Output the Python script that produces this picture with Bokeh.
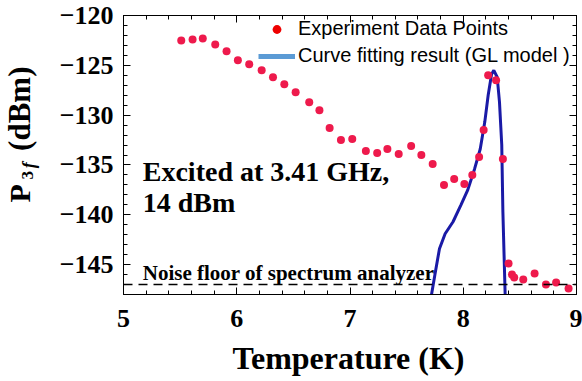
import numpy as np
from bokeh.plotting import figure
from bokeh.layouts import row, column
from bokeh.models import (Range1d, LinearAxis, FixedTicker, Span, Label,
                          Legend, LegendItem, ColumnDataSource)
from bokeh.core.properties import value
from bokeh.embed import file_html
from bokeh.resources import INLINE

# ---- data ----
temp_exp = [5.51, 5.61, 5.70, 5.81, 5.91, 6.01, 6.11, 6.22, 6.32, 6.42,
            6.52, 6.64, 6.73, 6.82, 6.92, 7.02, 7.14, 7.24, 7.33, 7.43,
            7.54, 7.63, 7.73, 7.83, 7.92, 8.01, 8.08, 8.14, 8.18, 8.22,
            8.29, 8.35, 8.40, 8.43, 8.45, 8.53, 8.63, 8.73, 8.82, 8.93]
p3f_exp = [-122.5, -122.4, -122.3, -122.9, -123.6, -124.5, -124.9, -125.5, -126.2, -126.9,
           -127.7, -128.7, -129.5, -131.3, -132.5, -132.4, -133.6, -133.8, -133.4, -133.9,
           -133.1, -134.0, -134.9, -137.0, -136.4, -136.9, -136.0, -134.2, -131.5, -126.0,
           -126.5, -134.4, -144.9, -146.0, -146.3, -146.5, -145.9, -147.0, -146.8, -147.4]

temp_fit = [7.72, 7.75, 7.79, 7.84, 7.91, 7.98, 8.04, 8.10, 8.15, 8.19,
            8.22, 8.25, 8.27, 8.30, 8.32, 8.34, 8.35, 8.37]
p3f_fit = [-148.0, -146.0, -143.4, -141.9, -140.7, -139.0, -137.5, -135.4, -133.4, -130.7,
           -128.0, -125.9, -125.5, -126.2, -128.7, -133.0, -139.7, -148.0]

noise_floor = -147.0

x_ticks = [5, 6, 7, 8, 9]
x_tick_labels = ["5", "6", "7", "8", "9"]
y_ticks = [-145, -140, -135, -130, -125, -120]
y_tick_labels = ["\u2212145", "\u2212140", "\u2212135", "\u2212130", "\u2212125", "\u2212120"]

x_title = "Temperature (K)"
legend_labels = ["Experiment Data Points", "Curve fitting result (GL model )"]

SERIF = "Liberation Serif"
SANS = "Liberation Sans"

LW, MW, TOPH, BH = 45, 537, 340, 41


def blank_fig(w, h):
    f = figure(width=w, height=h, x_range=Range1d(0, w), y_range=Range1d(0, h),
               output_backend="svg", toolbar_location=None,
               x_axis_location=None, y_axis_location=None,
               min_border=0)
    f.grid.visible = False
    f.outline_line_color = None
    return f


# ---- main plot ----
p = figure(width=MW, height=TOPH,
           x_range=Range1d(5, 9), y_range=Range1d(-148, -120),
           output_backend="svg", toolbar_location=None,
           x_axis_location=None, y_axis_location=None,
           min_border_left=78, min_border_right=6,
           min_border_top=15, min_border_bottom=46)
p.grid.visible = False
p.outline_line_color = "black"
p.outline_line_width = 1

x_minor = [float(v) for v in np.arange(5.0, 9.001, 0.2)]
y_minor = [float(v) for v in np.arange(-148.0, -119.99, 1.0)]


def make_axis(ticks, minor, overrides, show):
    ax = LinearAxis(ticker=FixedTicker(ticks=ticks, minor_ticks=minor))
    ax.axis_line_color = "black"
    ax.major_tick_in = 7
    ax.major_tick_out = 0
    ax.minor_tick_in = 4
    ax.minor_tick_out = 0
    ax.major_tick_line_color = "black"
    ax.minor_tick_line_color = "black"
    if show:
        ax.major_label_overrides = overrides
        ax.major_label_text_font = SERIF
        ax.major_label_text_font_style = "bold"
        ax.major_label_text_font_size = "26px"
        ax.major_label_text_color = "black"
    else:
        ax.major_label_text_font_size = "1px"
        ax.major_label_text_color = None
        ax.major_label_standoff = 0
    return ax


xov = {t: l for t, l in zip(x_ticks, x_tick_labels)}
yov = {t: l for t, l in zip(y_ticks, y_tick_labels)}

xb = make_axis(x_ticks, x_minor, xov, True)
xb.major_label_standoff = 15
p.add_layout(xb, "below")

yl = make_axis(y_ticks, y_minor, yov, True)
yl.major_label_standoff = 10
p.add_layout(yl, "left")

p.add_layout(make_axis(x_ticks, x_minor, xov, False), "above")
p.add_layout(make_axis(y_ticks, y_minor, yov, False), "right")

# noise floor
p.add_layout(Span(location=noise_floor, dimension="width", line_color="black",
                  line_dash="9 6", line_width=1.5))

# data
src_exp = ColumnDataSource(dict(x=temp_exp, y=p3f_exp))
src_fit = ColumnDataSource(dict(x=temp_fit, y=p3f_fit))
p.line("x", "y", source=src_fit, line_color="#1a1aa6", line_width=3)
p.scatter("x", "y", source=src_exp, size=8, fill_color="#ee1a4c", line_color=None)

# legend (dedicated legend glyphs, no visible data)
nan = [float("nan")]
leg_dot = p.scatter(x=nan, y=nan, size=9, fill_color="#ee0000", line_color=None)
leg_line = p.line(x=nan, y=nan, line_color="#5b9bd5", line_width=5)
legend = Legend(items=[LegendItem(label=legend_labels[0], renderers=[leg_dot]),
                       LegendItem(label=legend_labels[1], renderers=[leg_line])],
                location=(135, 227), orientation="vertical",
                border_line_color=None, background_fill_alpha=0,
                padding=0, margin=0, spacing=4,
                glyph_width=37, glyph_height=22, label_height=22,
                label_standoff=3,
                label_text_font=SANS, label_text_font_size="20px",
                label_text_color="black")
p.add_layout(legend, "center")

# annotations inside plot
for txt, yv in [("Excited at 3.41 GHz,", -136.9), ("14 dBm", -140.0)]:
    p.add_layout(Label(x=5.17, y=yv, y_offset=12, text=txt, text_font=SERIF,
                       text_font_style="bold", text_font_size="28px",
                       text_baseline="alphabetic", text_color="black"))
p.add_layout(Label(x=5.17, y=noise_floor, y_offset=12,
                   text="Noise floor of spectrum analyzer", text_font=SERIF,
                   text_font_style="bold", text_font_size="21px",
                   text_baseline="alphabetic", text_color="black"))

# ---- y title panel: P_{3f} (dBm) ----
L = blank_fig(LW, TOPH)
ylab = [("P", 19, 112, "30px", "bold"),
        ("3", 27, 140, "17px", "bold"),
        ("f", 28, 154, "18px", "bold italic"),
        ("(dBm)", 19, 175, "31px", "bold")]
for txt, xx, yy, fs, st in ylab:
    L.text(x=[xx], y=[yy], text=[txt], angle=np.pi / 2,
           text_font=value(SERIF), text_font_style=st, text_font_size=fs,
           text_align="left", text_baseline="alphabetic", text_color="black")

# ---- x title panel ----
B = blank_fig(LW + MW, BH)
B.text(x=[348], y=[24], text=[x_title], text_font=value(SERIF),
       text_font_style="bold", text_font_size="32px",
       text_align="center", text_baseline="alphabetic", text_color="black")

layout = column(row(L, p), B)
open("out.html", "w").write(file_html(layout, INLINE))
